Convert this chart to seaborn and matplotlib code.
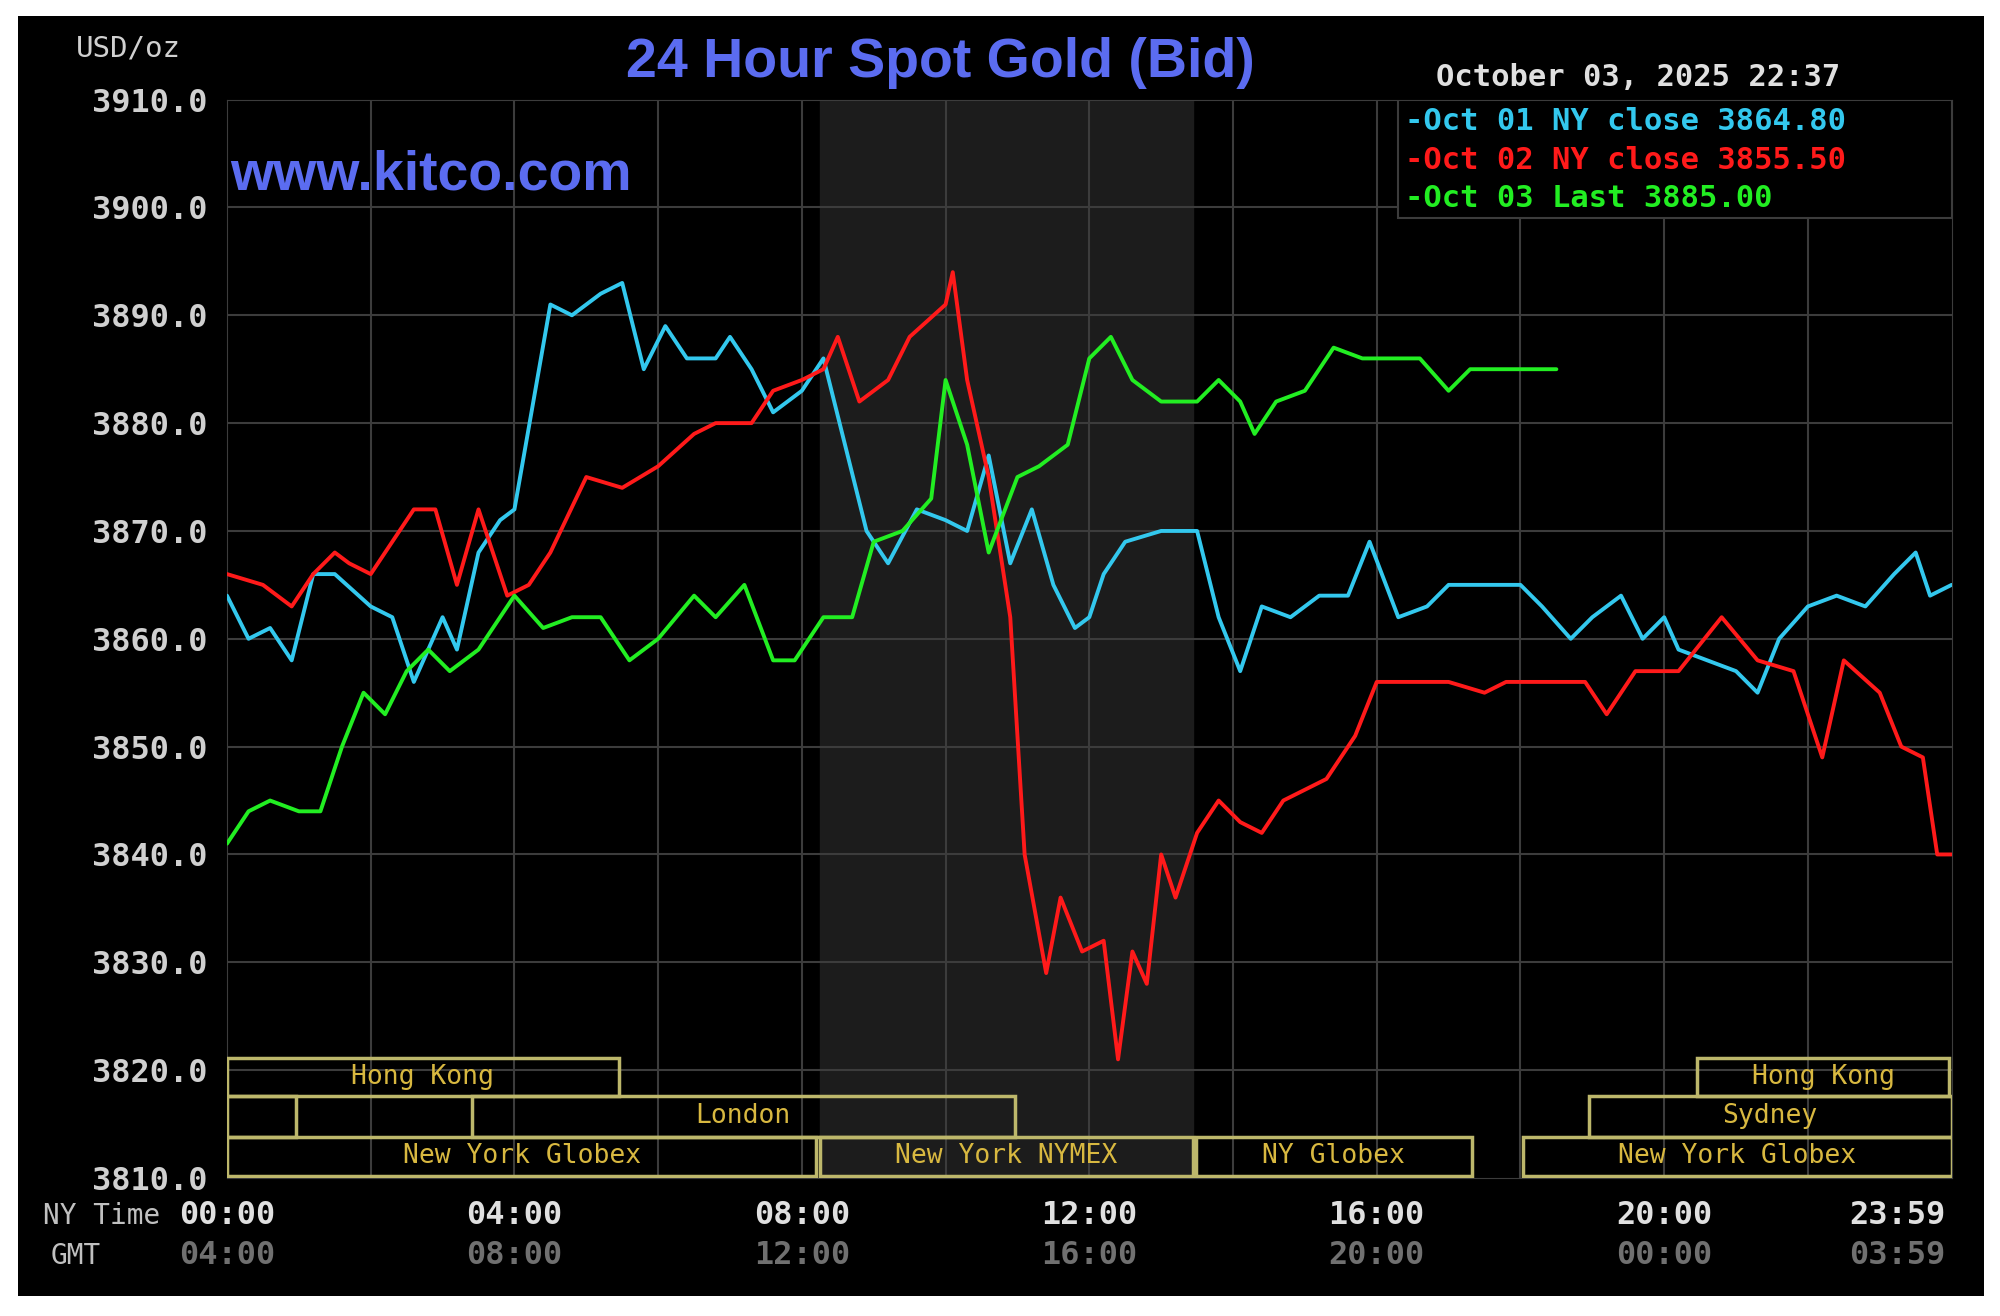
import numpy as np
import pandas as pd
import matplotlib
matplotlib.use("Agg")
import matplotlib.pyplot as plt
import seaborn as sns

# hours (NY time) and bid prices
oct01_t = [0, 0.3, 0.6, 0.9, 1.2, 1.5, 2.0, 2.3, 2.6, 3.0, 3.2, 3.5, 3.8, 4.0, 4.5, 4.8, 5.2, 5.5,
           5.8, 6.1, 6.4, 6.8, 7.0, 7.3, 7.6, 8.0, 8.3, 8.6, 8.9, 9.2, 9.6, 10.0, 10.3, 10.6, 10.9,
           11.2, 11.5, 11.8, 12.0, 12.2, 12.5, 13.0, 13.5, 13.8, 14.1, 14.4, 14.8, 15.2, 15.6, 15.9,
           16.3, 16.7, 17.0, 17.5, 18.0, 18.3, 18.7, 19.0, 19.4, 19.7, 20.0, 20.2, 20.6, 21.0, 21.3,
           21.6, 22.0, 22.4, 22.8, 23.2, 23.5, 23.7, 24.0]
oct01_v = [3864, 3860, 3861, 3858, 3866, 3866, 3863, 3862, 3856, 3862, 3859, 3868, 3871, 3872, 3891,
           3890, 3892, 3893, 3885, 3889, 3886, 3886, 3888, 3885, 3881, 3883, 3886, 3878, 3870, 3867,
           3872, 3871, 3870, 3877, 3867, 3872, 3865, 3861, 3862, 3866, 3869, 3870, 3870, 3862, 3857,
           3863, 3862, 3864, 3864, 3869, 3862, 3863, 3865, 3865, 3865, 3863, 3860, 3862, 3864, 3860,
           3862, 3859, 3858, 3857, 3855, 3860, 3863, 3864, 3863, 3866, 3868, 3864, 3865]

oct02_t = [0, 0.5, 0.9, 1.2, 1.5, 1.7, 2.0, 2.3, 2.6, 2.9, 3.2, 3.5, 3.7, 3.9, 4.2, 4.5, 5.0, 5.5,
           6.0, 6.5, 6.8, 7.3, 7.6, 8.0, 8.3, 8.5, 8.8, 9.2, 9.5, 10.0, 10.1, 10.3, 10.6, 10.9, 11.1,
           11.4, 11.6, 11.9, 12.2, 12.4, 12.6, 12.8, 13.0, 13.2, 13.5, 13.8, 14.1, 14.4, 14.7, 15.3,
           15.7, 16.0, 16.5, 17.0, 17.5, 17.8, 18.5, 18.9, 19.2, 19.6, 20.2, 20.8, 21.3, 21.8, 22.2,
           22.5, 23.0, 23.3, 23.6, 23.8, 24.0]
oct02_v = [3866, 3865, 3863, 3866, 3868, 3867, 3866, 3869, 3872, 3872, 3865, 3872, 3868, 3864, 3865,
           3868, 3875, 3874, 3876, 3879, 3880, 3880, 3883, 3884, 3885, 3888, 3882, 3884, 3888, 3891,
           3894, 3884, 3875, 3862, 3840, 3829, 3836, 3831, 3832, 3821, 3831, 3828, 3840, 3836, 3842,
           3845, 3843, 3842, 3845, 3847, 3851, 3856, 3856, 3856, 3855, 3856, 3856, 3856, 3853, 3857,
           3857, 3862, 3858, 3857, 3849, 3858, 3855, 3850, 3849, 3840, 3840]

oct03_t = [0, 0.3, 0.6, 1.0, 1.3, 1.6, 1.9, 2.2, 2.5, 2.8, 3.1, 3.5, 3.8, 4.0, 4.4, 4.8, 5.2, 5.6,
           6.0, 6.5, 6.8, 7.2, 7.6, 7.9, 8.3, 8.7, 9.0, 9.4, 9.8, 10.0, 10.3, 10.6, 11.0, 11.3, 11.7,
           12.0, 12.3, 12.6, 13.0, 13.5, 13.8, 14.1, 14.3, 14.6, 15.0, 15.4, 15.8, 16.2, 16.6, 17.0,
           17.3, 17.6, 18.5]
oct03_v = [3841, 3844, 3845, 3844, 3844, 3850, 3855, 3853, 3857, 3859, 3857, 3859, 3862, 3864, 3861,
           3862, 3862, 3858, 3860, 3864, 3862, 3865, 3858, 3858, 3862, 3862, 3869, 3870, 3873, 3884,
           3878, 3868, 3875, 3876, 3878, 3886, 3888, 3884, 3882, 3882, 3884, 3882, 3879, 3882, 3883,
           3887, 3886, 3886, 3886, 3883, 3885, 3885, 3885]

legend_labels = ["Oct 01 NY close 3864.80", "Oct 02 NY close 3855.50", "Oct 03 Last 3885.00"]
line_colors = ["#33c8ee", "#ff1a1a", "#22ee22"]

# session boxes: (row, start hour, end hour, label)
sessions = [
    (0, 0, 5.45, "Hong Kong"), (0, 20.45, 23.97, "Hong Kong"),
    (1, 0, 0.96, ""), (1, 3.41, 10.96, "London"), (1, 18.95, 24, "Sydney"),
    (2, 0, 8.2, "New York Globex"), (2, 8.25, 13.44, "New York NYMEX"),
    (2, 13.48, 17.32, "NY Globex"), (2, 18.03, 24, "New York Globex"),
]
row_bounds = [(3817.6, 3821.1), (3813.8, 3817.6), (3810.2, 3813.8)]

ny_ticks = ["00:00", "04:00", "08:00", "12:00", "16:00", "20:00", "23:59"]
gmt_ticks = ["04:00", "08:00", "12:00", "16:00", "20:00", "00:00", "03:59"]

df = pd.concat([
    pd.DataFrame({"t": oct01_t, "v": oct01_v, "s": legend_labels[0]}),
    pd.DataFrame({"t": oct02_t, "v": oct02_v, "s": legend_labels[1]}),
    pd.DataFrame({"t": oct03_t, "v": oct03_v, "s": legend_labels[2]}),
])

sns.set_style("dark")
mono = "DejaVu Sans Mono"
fig = plt.figure(figsize=(20, 13.16), dpi=100, facecolor="white")
bg = fig.add_axes([0.009, 0.015, 0.983, 0.973])
bg.set_facecolor("black")
bg.set_xticks([]); bg.set_yticks([])
for s in bg.spines.values():
    s.set_visible(False)

ax = fig.add_axes([0.1135, 0.1049, 0.8623, 0.8194])
ax.set_facecolor("black")
ax.set_xlim(0, 24)
ax.set_ylim(3810, 3910)
ax.axvspan(8.25, 13.45, color="#1c1c1c", zorder=0)
for h in range(2, 24, 2):
    ax.axvline(h, color="#3c3c3c", lw=1.5, zorder=1)
for v in range(3820, 3910, 10):
    ax.axhline(v, color="#3c3c3c", lw=1.5, zorder=1)
for s in ax.spines.values():
    s.set_color("#3c3c3c")

sns.lineplot(data=df, x="t", y="v", hue="s", palette=line_colors, lw=2.8,
             legend=False, ax=ax, zorder=3, sort=False)

box_col = "#bdb76b"
for row, a, b, lab in sessions:
    lo, hi = row_bounds[row]
    ax.add_patch(plt.Rectangle((a, lo), b - a, hi - lo, fill=False, ec=box_col, lw=2.5, zorder=4))
    if lab:
        ax.text((a + b) / 2, (lo + hi) / 2, lab, color="#d8b840", ha="center", va="center",
                fontsize=19, family=mono, zorder=5)

ax.set_xticks([0, 4, 8, 12, 16, 20, 24])
ax.set_xticklabels([])
ax.set_yticks(range(3810, 3911, 10))
ax.set_yticklabels([f"{v:.1f}" for v in range(3810, 3911, 10)], color="#d0d0d0",
                   fontsize=23, family=mono, fontweight="bold")
ax.tick_params(length=0, pad=14)
ax.set_xlabel(""); ax.set_ylabel("")

for x, a, b in zip([0, 4, 8, 12, 16, 20, 23.25], ny_ticks, gmt_ticks):
    ax.text(x, 3806.5, a, color="#e0e0e0", ha="center", va="center", fontsize=23,
            family=mono, fontweight="bold", clip_on=False)
    ax.text(x, 3802.8, b, color="#707070", ha="center", va="center", fontsize=23,
            family=mono, fontweight="bold", clip_on=False)
ax.text(-1.75, 3806.5, "NY Time", color="#c0c0c0", ha="center", va="center", fontsize=20,
        family=mono, clip_on=False)
ax.text(-2.1, 3802.8, "GMT", color="#c0c0c0", ha="center", va="center", fontsize=20,
        family=mono, clip_on=False)

# legend box
ax.add_patch(plt.Rectangle((16.3, 3899), 7.7, 11, fill=True, fc="black", ec="#3c3c3c", lw=1.5, zorder=5))
for i, (lab, c) in enumerate(zip(legend_labels, line_colors)):
    ax.text(16.4, 3908 - i * 3.6, "-" + lab, color=c, fontsize=22, family=mono,
            fontweight="bold", va="center", zorder=6)

fig.text(0.47, 0.952, "24 Hour Spot Gold (Bid)", color="#5b6cf0", fontsize=40,
         ha="center", va="center", family="Liberation Sans", fontweight="bold")
fig.text(0.038, 0.957, "USD/oz", color="#d0d0d0", fontsize=21, family=mono)
fig.text(0.718, 0.935, "October 03, 2025 22:37", color="#e0e0e0", fontsize=22, family=mono,
         fontweight="bold")
ax.text(0.05, 3903, "www.kitco.com", color="#5b6cf0", fontsize=40, fontweight="bold",
        family="Liberation Sans", va="center", zorder=6)

fig.savefig("out.png", dpi=100, facecolor="white")
